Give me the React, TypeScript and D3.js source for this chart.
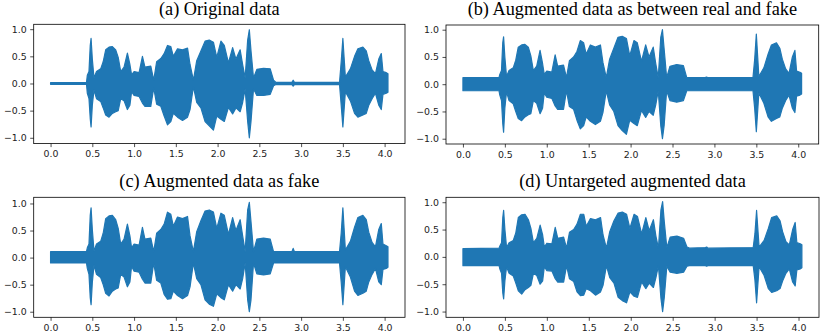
import * as d3 from "d3";
import { useEffect, useRef } from "react";

// envelope keypoints (seconds) shared by the four waveforms
const times = [
	0.0, 0.43, 0.44, 0.46, 0.475, 0.485, 0.5, 0.52, 0.55, 0.6, 0.63, 0.66, 0.7, 0.74, 0.78, 0.81, 0.84, 0.88,
	0.92, 0.95, 0.97, 1.0, 1.06, 1.1, 1.13, 1.2, 1.235, 1.27, 1.32, 1.36, 1.4, 1.44, 1.47, 1.52, 1.58, 1.64,
	1.67, 1.71, 1.75, 1.8, 1.85, 1.9, 1.95, 1.99, 2.04, 2.08, 2.13, 2.18, 2.22, 2.27, 2.3, 2.33, 2.36, 2.38,
	2.4, 2.43, 2.47, 2.55, 2.63, 2.67, 2.7, 2.89, 2.905, 2.92, 3.46, 3.48, 3.5, 3.53, 3.59, 3.64, 3.68, 3.74,
	3.78, 3.81, 3.85, 3.89, 3.93, 3.96, 3.98, 4.02, 4.04,
];

const originalUpper = [
	0.015, 0.015, 0.15, 0.22, 0.7, 0.83, 0.45, 0.1, 0.22, 0.27, 0.4, 0.62, 0.67, 0.68, 0.62, 0.48, 0.22, 0.3,
	0.56, 0.35, 0.16, 0.22, 0.2, 0.5, 0.3, 0.32, 0.06, 0.4, 0.46, 0.55, 0.7, 0.68, 0.5, 0.64, 0.62, 0.65,
	0.35, 0.06, 0.42, 0.6, 0.78, 0.8, 0.76, 0.48, 0.78, 0.7, 0.38, 0.66, 0.45, 0.62, 0.35, 0.1, 0.8, 0.99,
	0.6, 0.1, 0.26, 0.28, 0.27, 0.06, 0.02, 0.02, 0.06, 0.02, 0.02, 0.4, 0.83, 0.12, 0.27, 0.5, 0.64, 0.67,
	0.6, 0.42, 0.25, 0.18, 0.45, 0.55, 0.22, 0.2, 0.18,
];
const originalLower = [
	-0.015, -0.015, -0.18, -0.28, -0.65, -0.8, -0.4, -0.12, -0.28, -0.33, -0.45, -0.58, -0.62, -0.55, -0.52,
	-0.5, -0.28, -0.32, -0.48, -0.4, -0.15, -0.22, -0.24, -0.36, -0.42, -0.42, -0.08, -0.38, -0.42, -0.6,
	-0.76, -0.7, -0.55, -0.62, -0.68, -0.62, -0.48, -0.06, -0.35, -0.45, -0.7, -0.78, -0.86, -0.6, -0.66,
	-0.7, -0.44, -0.56, -0.45, -0.52, -0.35, -0.1, -0.7, -1.0, -0.7, -0.1, -0.22, -0.22, -0.2, -0.04, -0.02,
	-0.02, -0.05, -0.02, -0.02, -0.4, -0.8, -0.15, -0.32, -0.55, -0.62, -0.58, -0.55, -0.4, -0.28, -0.18,
	-0.4, -0.48, -0.2, -0.18, -0.16,
];

const betweenUpper = [
	0.12, 0.12, 0.18, 0.25, 0.76, 0.87, 0.5, 0.14, 0.25, 0.3, 0.44, 0.68, 0.72, 0.73, 0.68, 0.52, 0.25, 0.33,
	0.62, 0.38, 0.18, 0.24, 0.22, 0.54, 0.33, 0.35, 0.12, 0.43, 0.5, 0.6, 0.8, 0.76, 0.55, 0.72, 0.68, 0.72,
	0.4, 0.12, 0.46, 0.66, 0.86, 0.88, 0.84, 0.52, 0.8, 0.76, 0.42, 0.72, 0.5, 0.68, 0.38, 0.12, 0.86, 1.0,
	0.65, 0.12, 0.33, 0.36, 0.34, 0.12, 0.12, 0.12, 0.13, 0.12, 0.12, 0.45, 0.92, 0.14, 0.3, 0.55, 0.72,
	0.76, 0.66, 0.46, 0.28, 0.2, 0.5, 0.62, 0.24, 0.22, 0.2,
];
const betweenLower = [
	-0.12, -0.12, -0.2, -0.3, -0.72, -0.88, -0.44, -0.14, -0.3, -0.36, -0.5, -0.63, -0.67, -0.6, -0.56,
	-0.54, -0.3, -0.35, -0.54, -0.44, -0.16, -0.24, -0.26, -0.4, -0.46, -0.46, -0.12, -0.41, -0.46, -0.66,
	-0.82, -0.76, -0.6, -0.68, -0.74, -0.68, -0.52, -0.12, -0.38, -0.5, -0.76, -0.85, -0.92, -0.66, -0.72,
	-0.76, -0.48, -0.61, -0.5, -0.57, -0.38, -0.12, -0.76, -1.0, -0.76, -0.12, -0.3, -0.33, -0.3, -0.12,
	-0.12, -0.12, -0.12, -0.12, -0.12, -0.44, -0.87, -0.16, -0.35, -0.6, -0.68, -0.63, -0.6, -0.44, -0.3,
	-0.2, -0.44, -0.52, -0.22, -0.2, -0.18,
];

const fakeUpper = [
	0.11, 0.11, 0.18, 0.25, 0.78, 0.92, 0.52, 0.12, 0.25, 0.3, 0.45, 0.72, 0.77, 0.78, 0.7, 0.54, 0.25, 0.34,
	0.62, 0.4, 0.18, 0.25, 0.23, 0.56, 0.34, 0.36, 0.11, 0.45, 0.52, 0.62, 0.84, 0.8, 0.58, 0.75, 0.72, 0.76,
	0.4, 0.11, 0.48, 0.68, 0.86, 0.88, 0.84, 0.54, 0.82, 0.78, 0.43, 0.74, 0.5, 0.7, 0.4, 0.11, 0.88, 1.02,
	0.66, 0.11, 0.34, 0.36, 0.34, 0.11, 0.11, 0.11, 0.17, 0.11, 0.11, 0.45, 0.92, 0.14, 0.3, 0.56, 0.74,
	0.78, 0.7, 0.47, 0.28, 0.2, 0.52, 0.63, 0.25, 0.22, 0.2,
];
const fakeLower = [
	-0.1, -0.1, -0.2, -0.31, -0.74, -0.87, -0.46, -0.14, -0.31, -0.37, -0.5, -0.66, -0.71, -0.62, -0.58,
	-0.56, -0.31, -0.36, -0.54, -0.45, -0.16, -0.25, -0.27, -0.4, -0.47, -0.47, -0.1, -0.42, -0.47, -0.68,
	-0.77, -0.76, -0.62, -0.7, -0.76, -0.7, -0.54, -0.1, -0.39, -0.5, -0.78, -0.86, -0.9, -0.67, -0.74,
	-0.78, -0.5, -0.62, -0.5, -0.58, -0.39, -0.1, -0.78, -1.0, -0.78, -0.1, -0.3, -0.32, -0.3, -0.1, -0.1,
	-0.1, -0.1, -0.1, -0.1, -0.45, -0.87, -0.17, -0.36, -0.62, -0.7, -0.66, -0.62, -0.45, -0.31, -0.2,
	-0.45, -0.5, -0.22, -0.2, -0.18,
];

const untargetedUpper = [
	0.15, 0.16, 0.2, 0.26, 0.72, 0.85, 0.5, 0.17, 0.26, 0.3, 0.44, 0.72, 0.77, 0.78, 0.68, 0.52, 0.26, 0.34,
	0.58, 0.4, 0.18, 0.25, 0.24, 0.54, 0.34, 0.36, 0.16, 0.45, 0.5, 0.6, 0.78, 0.78, 0.56, 0.7, 0.68, 0.72,
	0.4, 0.16, 0.46, 0.66, 0.8, 0.82, 0.78, 0.52, 0.78, 0.74, 0.42, 0.72, 0.48, 0.68, 0.38, 0.16, 0.86, 1.01,
	0.64, 0.17, 0.36, 0.38, 0.34, 0.18, 0.16, 0.17, 0.18, 0.16, 0.17, 0.42, 0.85, 0.18, 0.3, 0.52, 0.72,
	0.75, 0.66, 0.46, 0.28, 0.22, 0.5, 0.63, 0.26, 0.24, 0.22,
];
const untargetedLower = [
	-0.16, -0.16, -0.22, -0.3, -0.66, -0.77, -0.44, -0.18, -0.3, -0.35, -0.48, -0.62, -0.68, -0.6, -0.56,
	-0.52, -0.3, -0.34, -0.5, -0.44, -0.18, -0.25, -0.26, -0.4, -0.46, -0.46, -0.16, -0.4, -0.45, -0.64,
	-0.71, -0.7, -0.58, -0.62, -0.7, -0.64, -0.52, -0.16, -0.38, -0.48, -0.74, -0.8, -0.84, -0.64, -0.72,
	-0.74, -0.46, -0.58, -0.48, -0.56, -0.38, -0.16, -0.76, -1.0, -0.74, -0.17, -0.28, -0.3, -0.28, -0.17,
	-0.16, -0.16, -0.17, -0.16, -0.16, -0.42, -0.84, -0.18, -0.34, -0.58, -0.65, -0.62, -0.58, -0.44, -0.3,
	-0.22, -0.46, -0.53, -0.24, -0.22, -0.2,
];

const titles = [
	"(a) Original data",
	"(b) Augmented data as between real and fake",
	"(c) Augmented data as fake",
	"(d) Untargeted augmented data",
];
const xTicks = [0, 0.5, 1, 1.5, 2, 2.5, 3, 3.5, 4];
const yTicks = [-1, -0.5, 0, 0.5, 1];
const xLimits = [-0.202, 4.244];
const yLimits = [
	[-1.107, 1.09],
	[-1.097, 1.086],
	[-1.103, 1.114],
	[-1.105, 1.09],
];

const series = [
	[originalUpper, originalLower],
	[betweenUpper, betweenLower],
	[fakeUpper, fakeLower],
	[untargetedUpper, untargetedLower],
];

// axes boxes [left, top, right, bottom] and title baselines
const boxes = [
	[33.7, 24.3, 405, 143.6],
	[446, 25, 818.7, 144],
	[33.7, 197.3, 405, 317.3],
	[446, 197.3, 819, 317.3],
];
const titleBaselines = [15, 15, 187, 187];

const blue = "#1f77b4";

const App = () => {
	const svgRef = useRef(null);

	useEffect(() => {
		const svg = d3.select(svgRef.current);
		svg.selectAll("*").remove();

		const fmt = (v) => d3.format(".1f")(v).replace("-", "\u2212");

		series.forEach(([upper, lower], i) => {
			const [left, top, right, bottom] = boxes[i];
			const x = d3.scaleLinear().domain(xLimits).range([left, right]);
			const y = d3.scaleLinear().domain(yLimits[i]).range([bottom, top]);

			const g = svg.append("g");

			const area = d3
				.area()
				.x((d) => x(d))
				.y0((d, j) => y(lower[j]))
				.y1((d, j) => y(upper[j]));

			g.append("path")
				.datum(times)
				.attr("fill", blue)
				.attr("stroke", blue)
				.attr("stroke-width", 1.2)
				.attr("stroke-linejoin", "round")
				.attr("d", area);

			const xAxis = g
				.append("g")
				.attr("transform", `translate(0,${bottom})`)
				.call(
					d3.axisBottom(x).tickValues(xTicks).tickFormat(fmt).tickSize(3.5).tickSizeOuter(0).tickPadding(3.5)
				);
			const yAxis = g
				.append("g")
				.attr("transform", `translate(${left},0)`)
				.call(
					d3.axisLeft(y).tickValues(yTicks).tickFormat(fmt).tickSize(3.5).tickSizeOuter(0).tickPadding(3.5)
				);

			[xAxis, yAxis].forEach((ax) => {
				ax.select(".domain").remove();
				ax.attr("font-family", "DejaVu Sans")
					.attr("font-size", 9.4)
					.style("color", "#222");
				ax.selectAll(".tick line").attr("stroke-width", 0.8);
			});

			g.append("rect")
				.attr("x", left)
				.attr("y", top)
				.attr("width", right - left)
				.attr("height", bottom - top)
				.attr("fill", "none")
				.attr("stroke", "#000")
				.attr("stroke-width", 0.8);

			g.append("text")
				.attr("x", (left + right) / 2)
				.attr("y", titleBaselines[i])
				.attr("text-anchor", "middle")
				.attr("font-family", "Liberation Serif, Times New Roman, serif")
				.attr("font-size", 18.3)
				.attr("fill", "#000")
				.text(titles[i]);
		});
	}, []);

	return (
		<div style={{ position: "absolute", left: 0, top: 0, width: 830, height: 336 }}>
			<svg ref={svgRef} width={830} height={336} style={{ display: "block", background: "#fff" }}></svg>
		</div>
	);
};

export default App;
